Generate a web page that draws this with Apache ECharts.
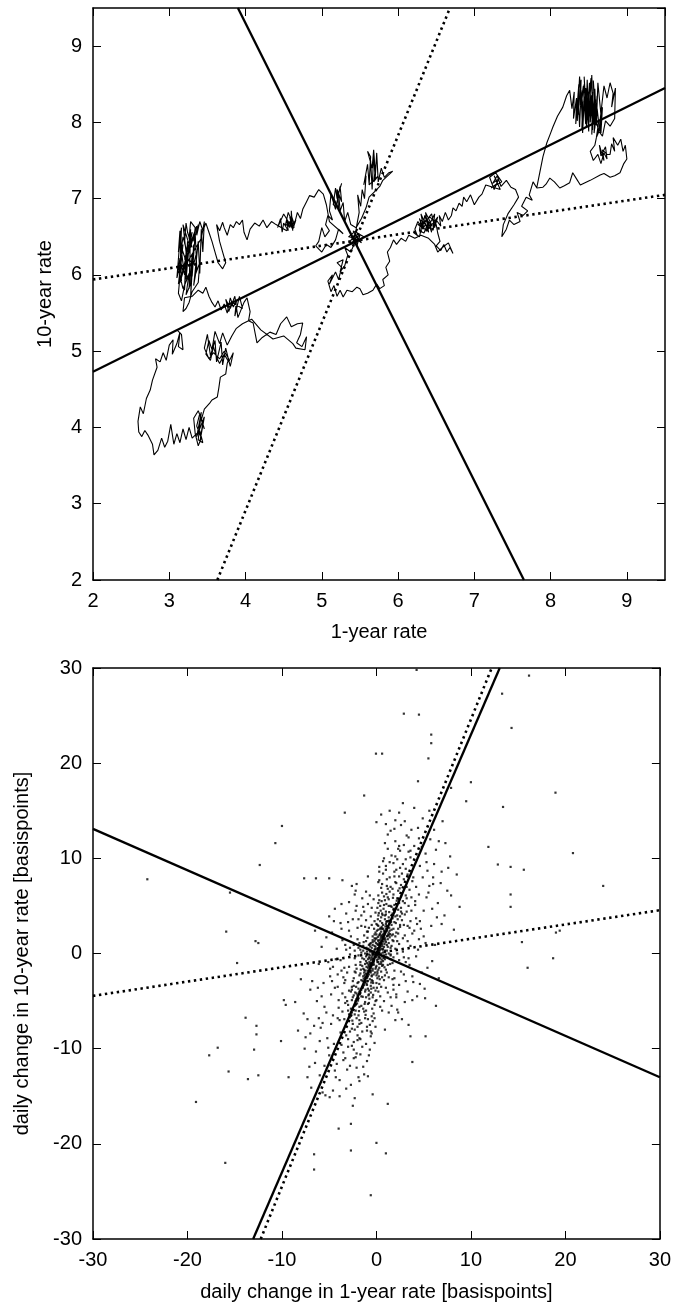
<!DOCTYPE html>
<html>
<head>
<meta charset="utf-8">
<script src="https://cdn.jsdelivr.net/npm/echarts@6/dist/echarts.min.js"></script>
<style>
  html, body { margin: 0; padding: 0; background: #fff; }
  #chart { width: 674px; height: 1306px; }
</style>
</head>
<body>
<div id="chart"></div>
<script>
// 1-year rate vs 10-year rate, daily path
var walk = [
  [7.82,7.15],[7.86,7.35],[7.90,7.55],[7.95,7.73],[8.00,7.86],[8.03,7.94],[8.09,8.08],[8.16,8.20],[8.21,8.35],[8.25,8.42],
  [8.28,8.18],[8.31,8.40],[8.30,8.05],[8.34,8.32],[8.33,7.98],[8.37,8.50],[8.36,8.10],[8.40,8.56],[8.39,8.22],[8.43,8.48],
  [8.41,7.92],[8.45,8.38],[8.44,8.60],[8.47,8.08],[8.46,8.45],[8.50,7.88],[8.51,8.52],[8.49,8.20],[8.53,8.58],[8.52,8.00],
  [8.55,8.40],[8.54,7.84],[8.57,8.30],[8.56,8.55],[8.59,8.12],[8.58,7.92],[8.61,8.35],[8.60,8.02],[8.63,7.88],[8.66,8.10],
  [8.62,8.52],[8.60,7.96],[8.58,8.44],[8.55,7.90],[8.53,8.36],[8.50,8.02],[8.48,8.56],[8.46,7.98],[8.44,8.28],[8.42,7.86],
  [8.40,8.42],[8.38,7.94],[8.36,8.38],[8.35,8.02],[8.38,8.60],[8.41,8.14],[8.44,8.50],[8.47,7.94],[8.49,8.40],[8.51,8.08],
  [8.54,8.62],[8.56,7.98],[8.59,8.30],[8.57,7.86],[8.61,8.18],[8.63,8.00],[8.60,7.80],[8.65,7.92],[8.68,8.20],[8.66,7.86],
  [8.64,7.95],[8.70,8.48],[8.74,8.32],[8.78,8.52],[8.82,8.38],[8.80,8.20],[8.85,8.45],[8.84,8.05],[8.78,7.95],[8.72,8.02],
  [8.68,7.82],[8.62,7.90],[8.58,7.70],[8.52,7.62],[8.56,7.50],[8.62,7.58],[8.66,7.46],[8.70,7.60],[8.74,7.52],[8.72,7.68],
  [8.66,7.56],[8.64,7.70],[8.70,7.50],[8.68,7.64],[8.74,7.58],
  [8.78,7.58],[8.80,7.72],[8.84,7.62],[8.82,7.80],[8.88,7.70],[8.92,7.78],[8.95,7.62],[8.98,7.70],[9.00,7.52],[8.96,7.46],
  [8.91,7.34],[8.84,7.30],[8.78,7.28],[8.70,7.33],[8.65,7.31],[8.52,7.24],[8.39,7.18],[8.34,7.26],[8.29,7.34],[8.25,7.21],
  [8.18,7.17],[8.12,7.14],[8.05,7.22],[7.99,7.27],[7.94,7.19],[7.90,7.15],[7.82,7.14],
  [7.77,7.22],[7.72,7.05],[7.76,6.98],[7.68,7.02],[7.62,6.90],[7.70,6.84],[7.64,6.78],[7.56,6.82],[7.60,6.70],[7.52,6.66],
  [7.46,6.72],[7.42,6.60],[7.36,6.50],[7.38,6.66],[7.44,6.80],[7.52,6.92],[7.58,7.02],[7.54,7.12],[7.48,7.15],
  [7.42,7.24],[7.35,7.16],[7.30,7.30],[7.24,7.20],[7.32,7.26],[7.26,7.12],[7.20,7.28],[7.28,7.34],[7.36,7.22],[7.22,7.14],
  [7.30,7.20],[7.26,7.30],[7.34,7.12],[7.15,7.18],[7.10,7.06],
  [7.06,7.02],[7.00,6.92],[6.95,7.05],[6.90,6.96],[6.86,7.02],[6.84,6.90],[6.80,6.94],[6.76,6.84],[6.72,6.88],[6.70,6.78],
  [6.66,6.72],[6.62,6.82],[6.58,6.70],[6.54,6.78],[6.56,6.64],[6.50,6.72],[6.46,6.60],[6.48,6.80],[6.42,6.68],[6.44,6.56],
  [6.38,6.74],[6.40,6.62],[6.35,6.78],[6.32,6.60],[6.36,6.66],[6.30,6.72],[6.28,6.58],[6.34,6.55],[6.40,6.70],[6.45,6.64],
  [6.36,6.82],[6.40,6.56],[6.34,6.72],[6.38,6.62],[6.30,6.80],[6.34,6.60],[6.28,6.74],[6.32,6.62],[6.26,6.66],[6.36,6.70],
  [6.44,6.80],[6.48,6.62],[6.52,6.76],[6.46,6.68],
  [6.38,6.58],[6.30,6.64],[6.26,6.70],[6.22,6.60],[6.25,6.52],[6.20,6.56],[6.28,6.50],[6.32,6.68],[6.42,6.76],[6.50,6.66],
  [6.52,6.55],
  [6.55,6.44],[6.50,6.38],[6.56,6.32],[6.60,6.40],[6.64,6.30],[6.68,6.36],[6.72,6.28],[6.66,6.42],[6.58,6.36],[6.52,6.30],
  [6.48,6.40],
  [6.40,6.48],[6.30,6.52],[6.22,6.48],[6.14,6.52],[6.10,6.44],[6.04,6.48],[5.98,6.40],[5.94,6.46],[5.90,6.36],[5.86,6.30],
  [5.89,6.18],[5.84,6.10],[5.87,6.00],[5.80,5.94],[5.82,5.86],[5.76,5.82],[5.72,5.88],[5.67,5.80],[5.60,5.76],[5.54,5.74],
  [5.50,5.82],[5.46,5.84],[5.40,5.78],[5.33,5.80],[5.28,5.71],
  [5.24,5.80],[5.20,5.72],[5.16,5.86],[5.12,5.78],[5.08,5.92],[5.14,6.00],[5.10,5.88],[5.18,6.04],[5.22,5.94],[5.26,6.10],
  [5.20,6.16],[5.28,6.20],[5.24,6.04],[5.30,6.12],[5.34,6.26],[5.30,6.36],[5.38,6.30],
  [5.44,6.44],[5.38,6.52],[5.46,6.38],[5.50,6.52],[5.40,6.46],[5.47,6.60],[5.35,6.50],[5.44,6.48],[5.52,6.42],[5.41,6.58],
  [5.48,6.46],[5.36,6.42],[5.45,6.56],[5.55,6.50],[5.42,6.40],[5.46,6.66],
  [5.49,6.82],[5.47,7.05],[5.51,6.90],[5.53,7.12],[5.56,7.00],[5.58,7.30],[5.55,7.18],[5.60,7.45],[5.62,7.20],[5.64,7.55],
  [5.60,7.62],[5.66,7.40],[5.68,7.64],[5.70,7.36],[5.72,7.52],[5.68,7.22],[5.74,7.30],[5.62,7.18],[5.64,7.50],[5.66,7.12],
  [5.68,7.58],[5.70,7.26],[5.72,7.60],[5.74,7.22],[5.78,7.40],[5.82,7.28],[5.88,7.34],
  [5.93,7.36],[5.80,7.24],[5.76,7.16],[5.70,7.10],[5.62,7.02],[5.58,6.88],[5.52,6.74],[5.45,6.62],
  [5.38,6.66],[5.34,6.82],[5.30,6.70],[5.28,6.95],[5.24,6.84],[5.22,7.08],[5.26,7.20],[5.20,7.00],[5.18,7.14],[5.15,6.92],
  [5.22,6.88],[5.20,7.12],[5.26,6.96],[5.24,7.16],[5.18,6.86],
  [5.12,7.06],[5.10,6.84],[5.14,6.72],[5.08,6.78],[5.05,6.66],[5.10,6.58],[5.04,6.50],[5.00,6.62],[4.96,6.44],[4.92,6.38],
  [5.00,6.30],[5.06,6.40],[5.12,6.36],[5.18,6.46],[5.22,6.60],[5.28,6.54],
  [5.10,6.70],[5.06,6.92],[5.02,7.06],[4.96,7.12],[4.90,7.02],[4.84,7.04],[4.80,6.96],[4.75,6.86],
  [4.72,6.74],[4.68,6.82],[4.64,6.66],[4.60,6.78],[4.58,6.62],[4.54,6.72],[4.56,6.58],[4.50,6.68],[4.48,6.56],[4.46,6.74],
  [4.42,6.62],[4.50,6.80],[4.56,6.70],[4.62,6.60],[4.66,6.72],[4.60,6.64],[4.60,6.84],[4.62,6.58],[4.58,6.76],[4.64,6.62],
  [4.56,6.82],[4.52,6.64],[4.58,6.70],[4.54,6.58],[4.52,6.60],
  [4.40,6.66],[4.34,6.70],[4.28,6.62],[4.23,6.72],[4.18,6.64],[4.12,6.68],[4.06,6.60],[4.02,6.46],[3.98,6.56],[3.96,6.72],
  [3.92,6.66],[3.88,6.70],[3.84,6.62],[3.80,6.66],[3.76,6.52],[3.72,6.62],[3.70,6.69],[3.66,6.58],[3.62,6.66],
  [3.66,6.44],[3.70,6.30],[3.74,6.16],[3.70,6.08],[3.64,6.16],[3.60,6.30],[3.56,6.44],[3.52,6.56],[3.48,6.68],
  [3.44,6.58],[3.40,6.70],[3.36,6.52],[3.38,6.66],[3.32,6.44],[3.34,6.62],[3.28,6.70],[3.26,6.48],[3.30,6.36],[3.24,6.56],
  [3.22,6.68],[3.20,6.42],[3.24,6.28],[3.18,6.50],[3.16,6.36],[3.22,6.18],[3.18,6.04],[3.14,6.22],[3.12,6.08],[3.16,5.92],
  [3.14,6.58],[3.12,6.30],[3.16,6.62],[3.14,6.02],[3.18,6.40],[3.12,5.88],[3.16,6.20],[3.10,5.96],[3.14,6.46],[3.20,6.00],
  [3.30,6.56],[3.20,6.20],[3.36,6.64],[3.14,5.90],[3.26,6.40],
  [3.18,6.66],[3.22,6.30],[3.20,5.80],[3.24,6.44],[3.22,5.94],[3.28,6.60],[3.26,5.82],[3.30,6.26],[3.28,5.70],[3.32,6.40],
  [3.30,5.98],[3.34,6.54],[3.36,6.10],[3.32,5.86],[3.38,6.44],[3.40,6.02],[3.42,6.60],[3.44,6.30],[3.46,6.70],[3.42,6.48],
  [3.20,6.10],[3.24,5.96],[3.18,5.82],[3.14,5.98],[3.12,5.76],[3.16,5.66],[3.20,5.86],[3.26,6.02],[3.22,5.74],[3.28,5.88],
  [3.30,6.06],[3.26,6.20],[3.32,6.14],[3.36,6.30],[3.34,6.00],[3.40,6.16],[3.38,5.90],[3.30,5.78],[3.26,5.64],[3.22,5.56],
  [3.18,5.52],[3.20,5.70],
  [3.30,5.72],[3.38,5.80],[3.44,5.76],[3.48,5.84],[3.52,5.72],[3.56,5.64],[3.60,5.58],
  [3.64,5.66],[3.68,5.54],[3.72,5.62],[3.76,5.50],[3.80,5.70],[3.84,5.58],[3.88,5.66],[3.86,5.46],[3.92,5.72],[3.96,5.56],
  [3.82,5.64],[3.78,5.52],[3.74,5.68],[3.80,5.56],[3.86,5.72],
  [3.90,5.44],[3.98,5.64],[4.02,5.70],[4.06,5.52],[4.04,5.40],
  [4.10,5.37],[4.15,5.11],[4.22,5.18],[4.32,5.25],[4.40,5.22],[4.46,5.36],[4.54,5.45],[4.60,5.32],[4.68,5.36],[4.75,5.37],
  [4.72,5.22],[4.67,5.11],[4.74,5.06],[4.80,5.19],[4.78,5.02],[4.66,5.04],[4.62,5.10],
  [4.50,5.20],[4.36,5.16],[4.20,5.28],[4.08,5.42],[3.96,5.36],[3.88,5.30],
  [3.82,5.20],[3.76,5.08],[3.70,5.24],[3.66,5.10],[3.60,5.26],[3.56,5.02],[3.52,5.14],[3.48,4.96],[3.54,4.88],[3.58,5.06],
  [3.62,4.92],[3.66,4.84],[3.72,4.96],[3.78,4.86],[3.84,4.98],[3.80,4.80],
  [3.74,5.04],[3.70,4.82],[3.68,5.12],[3.62,4.86],[3.60,5.14],[3.54,4.94],[3.50,5.22],[3.46,5.04],[3.52,4.90],[3.58,4.98],
  [3.66,4.90],[3.72,5.00],[3.78,4.90],
  [3.76,4.84],[3.74,4.70],[3.67,4.66],[3.65,4.52],[3.63,4.40],[3.56,4.36],[3.53,4.32],
  [3.46,4.24],[3.42,4.10],[3.46,3.98],[3.40,4.18],[3.36,4.02],[3.42,3.86],[3.38,3.76],[3.34,3.92],[3.32,4.12],[3.38,4.22],
  [3.44,4.06],[3.40,3.80],[3.46,4.14],[3.36,3.88],[3.42,4.20],[3.38,3.84],
  [3.44,3.80],[3.40,3.96],
  [3.30,3.86],[3.26,4.00],[3.22,3.84],[3.18,3.98],[3.14,3.80],[3.10,3.92],[3.06,3.78],[3.02,4.04],[2.98,3.82],[2.94,3.74],
  [2.90,3.86],[2.85,3.70],[2.80,3.64],[2.78,3.78],[2.72,3.90],[2.68,3.96],[2.64,3.88],
  [2.60,3.94],[2.59,4.08],[2.62,4.27],[2.66,4.18],[2.70,4.38],[2.75,4.49],[2.78,4.62],[2.84,4.79],[2.82,4.90],[2.88,4.86],
  [2.92,4.98],[2.96,4.88],[3.00,5.08],[3.05,5.15],[3.04,4.96],[3.10,5.10],[3.14,5.25],[3.12,5.06],[3.18,5.02],[3.16,5.22],
  [3.10,5.28]
];

// fitted lines for the levels: end points on the frame
var topSolid = [
  [[2.0, 4.73], [9.5, 8.45]],
  [[3.90, 9.5], [7.65, 2.0]]
];
var topDotted = [
  [[2.0, 5.94], [9.5, 7.05]],
  [[3.63, 2.0], [6.68, 9.5]]
];

// daily changes in basis points (1-year, 10-year)
var changes = [
  [0.2,0.5],[-0.3,-0.8],[0.5,1.2],[-0.6,-1.5],[0.1,-0.2],[0.8,2.1],[-0.9,-2.4],[0.3,0.9],[-0.2,0.4],[0.6,-0.3],
  [-0.5,0.6],[1.1,1.8],[-1.2,-1.1],[0.4,2.6],[-0.4,-2.9],[0.9,0.3],[-0.8,-0.4],[1.4,3.2],[-1.5,-3.6],[0.0,1.6],
  [0.2,-1.7],[-0.1,2.2],[0.7,-1.2],[-0.7,1.0],[1.6,2.5],[-1.3,-2.0],[0.5,3.8],[-0.6,-4.1],[1.0,4.4],[-1.1,-4.6],
  [1.8,1.3],[-1.7,-0.9],[0.3,-3.2],[-0.2,3.4],[1.3,0.0],[-1.0,0.2],[2.0,3.9],[-2.1,-4.2],[0.8,5.1],[-0.9,-5.3],
  [0.1,4.8],[0.0,-4.9],[1.5,-0.6],[-1.4,0.8],[2.3,4.6],[-2.2,-5.0],[1.2,5.9],[-1.3,-6.1],[0.6,6.4],[-0.5,-6.6],
  [2.5,2.8],[-2.4,-2.6],[0.9,-2.3],[-0.8,2.7],[1.7,6.8],[-1.8,-7.0],[2.8,5.5],[-2.7,-5.8],[0.4,-5.6],[-0.3,5.7],
  [1.9,-1.8],[-2.0,1.5],[2.6,7.2],[-2.5,-7.4],[0.2,7.5],[-0.1,-7.7],[3.0,4.1],[-2.9,-3.9],[1.4,8.0],[-1.5,-8.2],
  [0.7,0.1],[-0.4,-0.1],[0.3,1.9],[-0.7,-2.7],[1.2,2.9],[-1.6,-2.8],[0.5,-0.9],[-0.2,1.3],[0.9,3.6],[-1.0,-3.3],
  [1.6,4.9],[-1.9,-4.7],[0.0,0.0],[0.4,-0.5],[-0.6,0.3],[1.0,-0.1],[-1.1,-0.3],[0.2,2.9],[-0.3,-2.2],[1.3,1.1],
  [-1.4,-1.6],[2.1,2.2],[-2.0,-3.1],[0.6,4.2],[-0.8,-3.9],[1.7,3.7],[-1.6,-5.5],[0.8,6.0],[-1.2,-4.0],[2.2,5.8],
  [-2.3,-6.4],[1.1,7.1],[-0.9,-6.9],[0.3,8.6],[-0.5,-8.4],[2.7,6.3],[-2.8,-6.7],[1.5,0.6],[-1.7,0.4],[2.4,1.0],
  [-2.3,-0.5],[0.0,3.1],[0.1,-2.6],[-0.4,1.8],[0.5,-1.9],[1.8,2.6],[-1.8,-2.3],[3.1,6.1],[-3.0,-6.0],[0.7,3.0],
  [-0.6,-3.4],[2.9,3.0],[-2.6,-3.5],[1.0,-1.7],[-1.3,1.9],[3.4,5.0],[-3.3,-5.2],[0.2,-4.0],[-0.1,4.3],[1.9,4.4],
  [-2.1,-4.8],[2.0,0.5],[-1.9,-0.2],[0.3,0.3],[-0.2,-0.4],[0.6,0.8],[-0.5,-1.0],[0.1,1.0],[0.0,-1.3],[0.8,1.5],
  [-0.7,-1.9],[0.4,-0.2],[-0.3,0.2],[1.1,2.4],[-1.2,-2.5],[0.2,-0.9],[-0.1,0.7],[0.9,-0.6],[-0.8,0.9],[0.5,2.3],
  [-0.4,-1.6],[1.4,1.7],[-1.5,-1.3],[2.1,8.8],[-2.0,-9.1],[2.8,9.4],[-2.6,-9.7],[1.0,9.2],[-1.1,-9.5],[3.3,8.3],
  [-3.2,-8.6],[1.6,10.3],[-1.7,-10.6],[2.5,10.8],[-2.4,-11.0],[0.8,10.0],[-0.7,-10.1],[3.6,10.1],[-3.5,-10.4],[2.0,11.8],
  [-2.1,-12.0],[1.2,12.5],[-1.3,-12.7],
  [0.15,0.9],[-0.25,-0.6],[0.45,1.6],[-0.55,-1.2],[0.05,-0.7],[0.85,1.0],[-0.95,-1.8],[0.35,2.0],[-0.15,-2.0],[0.65,0.4],
  [-0.65,-0.2],[1.25,2.0],[-1.05,-1.4],[0.55,2.8],[-0.35,-3.1],[0.95,1.4],[-0.75,-0.9],[1.35,2.7],[-1.45,-2.9],[0.05,2.4],
  [0.25,-2.4],[-0.05,1.1],[0.75,-0.5],[-0.85,0.5],[1.55,3.3],[-1.25,-3.0],[0.45,4.5],[-0.55,-3.7],[1.05,3.3],[-1.15,-3.8],
  [1.75,2.0],[-1.65,-1.7],[0.35,-2.7],[-0.25,2.6],[1.15,-0.4],[-1.05,0.6],[2.05,3.2],[-2.15,-3.5],[0.75,4.7],[-0.85,-4.4],
  [0.15,3.6],[0.05,-3.6],[1.45,-1.1],[-1.35,1.2],[2.25,3.6],[-2.25,-4.1],[1.05,5.2],[-1.25,-5.3],[0.55,5.5],[-0.45,-5.8],
  [1.2,0.7],[-1.3,-0.6],[0.6,1.9],[-0.7,-1.4],[1.7,4.2],[-1.9,-3.7],[0.8,2.4],[-0.9,-2.9],[0.4,1.4],[-0.4,-1.8],
  [1.0,1.2],[-1.0,-1.0],[2.2,4.0],[-2.4,-4.4],[0.0,2.0],[0.1,-2.1],[1.3,3.8],[-1.4,-3.4],[0.7,-0.8],[-0.6,1.1],
  [1.9,5.1],[-1.8,-5.6],[0.3,-1.5],[-0.2,1.6],[2.6,4.8],[-2.5,-4.6],[1.6,1.9],[-1.7,-2.1],[0.9,4.0],[-0.8,-4.3],
  [2.3,6.6],[-2.2,-6.0],[1.4,6.5],[-1.2,-6.8],[0.2,5.3],[-0.1,-5.0],[2.7,3.5],[-2.7,-4.0],[1.1,-2.0],[-1.0,2.3],
  [0.5,-3.5],[-0.6,3.9],[1.8,-0.4],[-1.9,0.6],[3.2,7.0],[-3.1,-7.2],[2.4,8.1],[-2.3,-8.0],[0.6,7.3],[-0.7,-7.5],
  [0.1,0.2],[-0.1,-0.3],[0.3,0.6],[-0.4,-0.2],[0.2,-0.6],[-0.2,0.8],[0.6,1.3],[-0.6,-0.7],[0.0,0.5],[0.1,-0.9],
  [0.4,1.0],[-0.3,-1.2],[0.7,1.7],[-0.7,-1.1],[0.2,1.4],[-0.1,-1.6],[0.9,2.2],[-0.9,-1.5],[0.3,-0.4],[-0.5,0.1],
  [1.0,2.6],[-1.1,-2.1],[0.5,0.0],[-0.4,0.9],[0.8,-0.2],[-0.9,-0.6],[1.2,1.5],[-1.0,-2.6],[0.0,-2.3],[0.2,2.5],
  [0.6,3.2],[-0.5,-2.4],[1.3,2.2],[-1.2,-1.8],[0.4,3.4],[-0.3,-3.6],[0.7,2.0],[-0.8,-2.2],[1.1,0.9],[-1.1,-0.8],
  [0.3,-1.1],[-0.1,1.5],[0.5,1.8],[-0.6,-2.0],[0.9,1.6],[-0.7,-0.5],[0.1,3.0],[0.0,-3.1],[1.4,2.4],[-1.3,-3.3],
  [0.6,-1.3],[-0.4,1.4],[0.2,0.1],[-0.2,-0.1],[0.8,0.7],[-0.8,-1.3],[1.0,3.1],[-1.0,-2.2],[0.4,2.1],[-0.5,-2.8],
  [0.3,1.1],[-0.3,-0.9],[0.7,2.6],[-0.6,-1.8],[1.2,3.4],[-1.4,-2.4],[0.1,-1.9],[-0.2,2.0],[0.5,0.5],[-0.5,-0.4],
  [1.6,3.0],[-1.6,-3.8],[2.0,4.7],[-2.0,-4.4],[1.3,5.0],[-1.4,-5.8],[0.9,5.6],[-0.8,-5.2],[2.4,5.3],[-2.3,-5.5],
  [1.8,6.2],[-1.9,-6.5],[0.5,6.9],[-0.4,-7.1],[2.6,6.0],[-2.6,-6.2],[1.1,7.8],[-1.0,-8.1],[2.1,7.4],[-2.0,-7.7],
  [0.2,6.1],[-0.3,-6.3],[1.5,7.0],[-1.6,-7.3],[2.9,7.8],[-2.8,-8.2],[0.7,8.4],[-0.6,-8.7],[1.9,8.6],[-1.8,-8.9],
  [2.3,2.6],[-2.2,-2.0],[2.7,4.2],[-2.6,-4.9],[1.5,-0.2],[-1.6,0.1],[2.0,1.8],[-2.1,-1.6],[3.0,5.3],[-3.1,-5.0],
  [1.2,-1.2],[-1.1,1.3],[2.5,3.9],[-2.4,-3.4],[0.8,-2.8],[-0.9,2.3],[1.7,-1.0],[-1.8,1.1],[3.2,4.4],[-3.3,-4.6],
  [0.4,-4.5],[-0.5,4.8],[1.3,-2.5],[-1.2,2.8],[2.2,0.0],[-2.3,0.3],[0.6,-6.0],[-0.7,6.1],[1.0,-3.6],[-1.1,3.5],
  [2.8,1.6],[-2.9,-1.4],[1.9,-2.6],[-2.0,2.7],[3.5,6.7],[-3.4,-6.9],[2.5,9.0],[-2.4,-9.3],[1.4,9.6],[-1.5,-9.8],
  [0.3,9.1],[-0.2,-9.4],[3.1,8.9],[-3.0,-9.0],[2.0,10.2],[-2.1,-10.5],[1.2,11.0],[-1.0,-11.3],[2.9,11.4],[-2.8,-11.8],
  [0.35,0.35],[-0.45,-0.55],[0.75,1.25],[-0.85,-1.15],[0.25,-0.35],[-0.15,0.45],[1.15,1.85],[-1.25,-2.25],[0.55,-0.65],[-0.65,0.75],
  [0.95,2.85],[-1.05,-3.15],[0.15,1.75],[-0.05,-1.45],[1.45,2.05],[-1.35,-2.65],[0.45,2.65],[-0.55,-3.05],[1.65,3.75],[-1.75,-4.25],
  [0.85,-1.45],[-0.95,1.65],[0.05,0.15],[0.15,-0.15],[1.85,4.55],[-1.95,-4.95],[0.65,4.05],[-0.75,-4.75],[1.35,4.35],[-1.45,-4.55],
  [2.15,5.55],[-2.05,-5.25],[0.25,4.25],[-0.35,-4.35],[1.05,6.25],[-1.15,-6.45],[2.45,6.85],[-2.55,-7.05],[1.75,5.85],[-1.85,-6.05],
  [-3.2,0.4],[3.1,-0.9],[-2.7,1.8],[2.6,-1.9],[-3.8,-0.7],[3.6,0.8],[-2.2,-1.2],[2.2,1.3],[-1.6,2.9],[1.7,-2.7],
  [-3.4,-3.1],[3.3,2.9],[-2.9,2.4],[2.9,-2.2],[-1.9,3.6],[1.8,-3.3],[-4.1,-2.2],[4.0,2.4],[-3.0,-5.4],[3.2,5.8],
  [-2.4,0.9],[2.4,-0.7],[-3.6,-4.2],[3.7,4.5],[-1.3,4.4],[1.2,-4.1],[-4.4,-3.6],[4.3,3.1],[-2.1,5.0],[2.1,-4.6],
  [-3.1,-2.0],[3.0,1.9],[-0.9,5.2],[0.8,-5.0],[-2.6,-7.9],[2.7,8.4],[-3.9,-7.0],[3.8,7.6],[-1.7,-9.0],[1.8,9.5],
  [-0.5,3.0],[0.6,-2.5],[-1.4,0.3],[1.5,-0.1],[-2.8,-0.1],[2.8,0.2],[-1.9,-3.0],[1.9,3.3],[-0.2,-5.4],[0.3,5.6],
  [-2.5,-2.9],[2.5,3.0],[-3.3,0.9],[3.4,-0.5],[-1.1,-6.0],[1.2,6.8],[-2.0,-8.6],[2.2,9.9],[-0.8,-10.7],[0.9,11.6],
  [-3.5,-2.5],[3.5,2.7],[-4.6,-1.4],[4.5,1.5],[-4.0,-4.9],[4.1,5.1],[-1.0,-7.7],[1.0,8.8],[-3.7,-9.6],[3.6,10.8],
  [-0.3,-0.6],[0.4,0.7],[-0.8,-0.1],[0.7,0.5],[-1.2,0.0],[1.1,0.3],[-0.5,-2.3],[0.6,2.6],[-1.5,-0.5],[1.6,0.8],
  [-2.3,-1.9],[2.3,2.1],[-0.1,-3.9],[0.2,4.0],[-1.8,-4.0],[1.8,4.7],[-2.9,-6.4],[3.0,7.0],[-0.6,-8.2],[0.7,9.7],
  [-1.4,-11.9],[1.5,12.9],[-4.8,-7.4],[4.9,8.0],[-5.5,-5.6],[5.3,5.9],[-4.2,0.5],[4.2,-0.3],[-3.0,3.3],[3.1,-2.9],
  [-2.2,6.6],[2.3,-6.2],[-3.7,5.2],[3.8,-4.9],[-5.1,-0.9],[5.2,1.1],[-4.7,-2.9],[4.6,3.4],[-6.1,-6.8],[6.0,7.3],
  [-0.4,1.2],[0.5,-1.1],[-0.9,-3.7],[1.0,4.1],[-1.7,-1.2],[1.7,1.4],[-2.6,-3.8],[2.6,4.4],[-1.2,-5.1],[1.3,5.7],
  [-0.2,-6.8],[0.3,7.7],[-2.4,-10.1],[2.4,11.3],[-3.3,-11.0],[3.4,12.2],[-1.9,-13.0],[2.0,14.0],[-0.9,-12.9],[1.0,13.6],
  [-0.7,0.2],[0.8,-0.4],[-0.3,-1.1],[0.2,1.3],[-1.0,-2.9],[1.1,3.4],[-1.6,-4.5],[1.5,5.0],[-2.1,-6.8],[2.0,7.5],
  [-0.1,0.0],[0.0,-0.4],[-0.6,-1.0],[0.6,1.0],[-1.3,-1.7],[1.3,1.9],[-0.4,-4.6],[0.4,5.0],[-1.8,-7.4],[1.9,8.1],
  [3.8,2.1],[-3.7,-1.8],[4.2,7.0],[-4.1,-6.8],[5.0,4.5],[-4.8,-4.3],[3.5,-1.2],[-3.6,1.4],[4.6,9.2],[-4.5,-9.5],
  [5.5,6.4],[-5.3,-6.2],[3.9,-3.0],[-3.8,3.2],[6.0,8.0],[-5.9,-7.8],[4.4,0.4],[-4.3,-0.6],[2.4,-3.3],[-2.5,3.6],
  [5.8,2.9],[-5.6,-3.1],[6.5,5.3],[-6.3,-5.0],[4.0,11.3],[-4.2,-11.6],[3.2,12.4],[-3.1,-12.2],[5.2,10.5],[-5.0,-10.7],
  [6.8,7.4],[-6.6,-7.6],[3.0,-5.1],[-2.9,5.4],[4.8,-2.0],[-4.7,2.2],[7.2,4.0],[-7.0,-3.8],[2.6,13.5],[-2.7,-13.8],
  [1.8,-3.8],[-1.6,4.0],[3.7,13.0],[-3.9,-13.3],[5.7,12.0],[-5.5,-11.8],[6.2,0.9],[-6.1,-1.1],[4.3,-4.5],[-4.4,4.7],
  [7.6,9.0],[-7.5,-8.8],[2.2,-5.9],[-2.3,6.2],[6.9,3.1],[-6.8,-2.9],[4.9,14.2],[-4.6,-14.4],[0.5,14.6],[-0.4,-14.8],
  [3.3,1.3],[-3.4,-1.5],[2.9,-0.4],[-2.8,0.6],[4.1,5.5],[-4.0,-5.7],[3.6,3.4],[-3.3,-2.8],[5.4,8.7],[-5.2,-8.9],
  [4.7,2.6],[-4.9,-2.4],[6.3,10.9],[-6.4,-10.3],[3.1,9.9],[-3.0,-9.8],[5.9,-0.8],[-5.8,0.7],[1.5,-4.6],[-1.4,4.9],
  [2.3,11.0],[-2.2,-10.9],[4.5,12.1],[-4.4,-12.3],[7.9,6.1],[-7.7,-6.3],[6.6,-2.6],[-6.5,2.4],[8.2,2.5],[-8.0,-2.7],
  [5.1,-3.7],[-5.0,3.9],[2.7,-6.9],[-2.6,7.1],[3.4,-7.5],[-3.6,7.7],[1.3,-6.2],[-1.1,6.5],[7.3,11.6],[-7.1,-11.9],
  [1.9,13.1],[-1.8,-13.4],[0.9,-8.0],[-0.9,8.1],[2.0,-7.0],[-2.1,7.3],[6.1,13.0],[-6.0,-12.8],[4.0,15.3],[-3.9,-15.0],
  [2.8,15.8],[-2.5,-16.0],[5.6,15.0],[-5.4,-14.9],[7.0,13.9],[-6.9,-14.1],[8.5,8.3],[-8.3,-8.1],[8.8,4.9],[-8.6,-5.1],
  [4.5,6.2],[-4.6,-6.5],[5.3,9.6],[-5.1,-9.9],[3.9,8.0],[-3.8,-8.3],[6.1,9.4],[-6.0,-9.2],[4.8,11.2],[-4.7,-11.0],
  [3.4,10.7],[-3.5,-11.2],[5.6,7.1],[-5.7,-7.3],[4.2,3.7],[-4.1,-3.5],[3.7,5.9],[-3.6,-6.1],[5.0,1.8],[-4.9,-1.6],
  [6.6,11.8],[-6.5,-11.5],[4.4,13.2],[-4.3,-13.0],[3.0,13.9],[-3.2,-14.2],[6.9,8.6],[-7.0,-8.4],[7.5,6.6],[-7.3,-6.9],
  [2.1,-4.3],[-2.2,4.5],[3.8,-2.4],[-3.7,2.6],[5.4,-1.5],[-5.3,1.7],[4.6,-3.2],[-4.5,3.4],[6.4,3.8],[-6.2,-3.6],
  [3.3,-4.0],[-3.2,4.2],[1.6,-5.5],[-1.5,5.8],[5.9,4.7],[-5.8,-4.5],[7.8,10.2],[-7.6,-10.0],[2.4,14.8],[-2.3,-15.2],
  [4.25,29.8],[16.15,29.2],[13.3,27.3],[2.9,25.2],[4.5,25.1],[14.3,23.7],[5.8,23.0],[5.8,22.1],[-0.05,21.0],[0.6,21.0],
  [5.5,20.5],[4.4,18.1],[10.0,18.0],[18.95,16.9],[7.9,17.4],[9.5,16.0],[-1.3,16.6],[-3.35,14.8],[1.4,15.0],[13.4,15.4],
  [0.0,13.8],[-10.0,13.4],[11.85,11.2],[20.8,10.55],[-10.7,11.6],[-12.35,9.3],[12.85,9.35],[14.2,9.1],[15.6,8.8],[24.0,7.1],
  [-24.25,7.8],[-15.5,6.4],[-7.65,7.9],[-6.4,7.9],[-5.0,7.9],[14.2,6.2],[14.2,4.9],[19.0,2.2],[19.4,2.4],[15.4,1.2],
  [-15.9,2.3],[-12.8,1.3],[-12.5,1.1],[-14.75,-1.0],[18.7,-0.5],[16.0,-1.5],[5.15,-4.7],[6.3,-5.5],[-9.8,-4.9],[-9.6,-5.4],
  [-13.85,-6.75],[-12.7,-7.6],[-12.7,-8.5],[-12.95,-10.1],[-16.8,-9.9],[-17.7,-10.7],[-10.1,-9.2],[3.6,-8.7],[5.2,-8.7],[3.8,-11.4],
  [-15.65,-12.4],[-13.6,-13.2],[-12.5,-12.8],[-9.3,-13.0],[-7.3,-13.0],[-5.7,-14.6],[-4.95,-15.1],[-19.1,-15.6],[1.2,-15.8],[-4.0,-18.4],
  [-2.7,-17.9],[0.0,-19.9],[1.0,-21.0],[-2.7,-20.7],[-6.6,-21.1],[-6.6,-22.7],[-16.0,-22.0],[-0.6,-25.4]
];

// fitted lines for the daily changes
var bottomSolid = [
  [[-13.05, -30], [13.05, 30]],
  [[-30, 13.1], [30, -13.0]]
];
var bottomDotted = [
  [[-12.25, -30], [12.2, 30]],
  [[-30, -4.45], [30, 4.55]]
];

var font = 'Liberation Sans, Arial, Helvetica, sans-serif';
var chart = echarts.init(document.getElementById('chart'));

function axis(opt) {
  var base = {
    type: 'value',
    scale: true,
    axisLine: { show: true, onZero: false, lineStyle: { color: '#000', width: 1.5 } },
    axisTick: { show: true, inside: true, length: 8, lineStyle: { color: '#000', width: 1 } },
    splitLine: { show: false },
    axisLabel: { show: true, color: '#000', fontSize: 20, fontFamily: font },
    nameTextStyle: { color: '#000', fontSize: 20, fontFamily: font }
  };
  for (var k in opt) {
    if (typeof opt[k] === 'object' && base[k] && !Array.isArray(opt[k])) {
      base[k] = Object.assign({}, base[k], opt[k]);
    } else {
      base[k] = opt[k];
    }
  }
  return base;
}

function lineSeries(pts, xi, dotted) {
  return {
    type: 'line',
    xAxisIndex: xi,
    yAxisIndex: xi,
    data: pts,
    showSymbol: false,
    symbol: 'none',
    clip: true,
    silent: true,
    z: 5,
    lineStyle: dotted
      ? { color: '#000', width: 2.6, type: [2.4, 3.6], cap: 'butt' }
      : { color: '#000', width: 2.3 }
  };
}

var series = [
  {
    type: 'line',
    xAxisIndex: 0,
    yAxisIndex: 0,
    data: walk,
    showSymbol: false,
    symbol: 'none',
    silent: true,
    z: 3,
    lineStyle: { color: '#000', width: 1.1 }
  },
  {
    type: 'scatter',
    xAxisIndex: 2,
    yAxisIndex: 2,
    data: changes,
    symbol: 'rect',
    symbolSize: 2.2,
    silent: true,
    z: 3,
    itemStyle: { color: '#000' }
  }
];
topSolid.forEach(function (p) { series.push(lineSeries(p, 0, false)); });
topDotted.forEach(function (p) { series.push(lineSeries(p, 0, true)); });
bottomSolid.forEach(function (p) { series.push(lineSeries(p, 2, false)); });
bottomDotted.forEach(function (p) { series.push(lineSeries(p, 2, true)); });

chart.setOption({
  animation: false,
  backgroundColor: '#fff',
  grid: [
    { left: 93, top: 8, width: 572, height: 572 },
    { left: 93, top: 668, width: 572, height: 571 }
  ],
  xAxis: [
    axis({ gridIndex: 0, position: 'bottom', min: 2, max: 9.5, interval: 1,
      name: '1-year rate', nameLocation: 'middle', nameGap: 42,
      axisLabel: { margin: 11, showMaxLabel: false } }),
    axis({ gridIndex: 0, position: 'top', min: 2, max: 9.5, interval: 1,
      axisLabel: { show: false } }),
    axis({ gridIndex: 1, position: 'bottom', min: -30, max: 30, interval: 10,
      name: 'daily change in 1-year rate [basispoints]', nameLocation: 'middle', nameGap: 43,
      axisLabel: { margin: 11 } }),
    axis({ gridIndex: 1, position: 'top', min: -30, max: 30, interval: 10,
      axisLabel: { show: false } })
  ],
  yAxis: [
    axis({ gridIndex: 0, position: 'left', min: 2, max: 9.5, interval: 1,
      name: '10-year rate', nameLocation: 'middle', nameGap: 38,
      axisLabel: { margin: 11, showMaxLabel: false } }),
    axis({ gridIndex: 0, position: 'right', min: 2, max: 9.5, interval: 1,
      axisLabel: { show: false } }),
    axis({ gridIndex: 1, position: 'left', min: -30, max: 30, interval: 10,
      name: 'daily change in 10-year rate [basispoints]', nameLocation: 'middle', nameGap: 61,
      axisLabel: { margin: 11 } }),
    axis({ gridIndex: 1, position: 'right', min: -30, max: 30, interval: 10,
      axisLabel: { show: false } })
  ],
  series: series
});
</script>
</body>
</html>
